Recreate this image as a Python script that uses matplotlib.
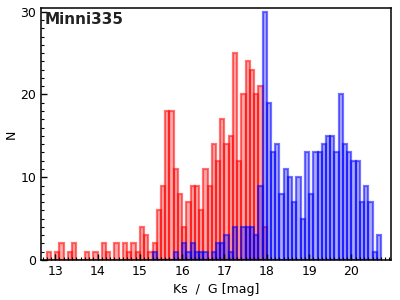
import numpy as np
import matplotlib
matplotlib.use("Agg")
import matplotlib.pyplot as plt
from matplotlib.ticker import MultipleLocator

# histogram counts, 0.1 mag bins
bin_width = 0.1
red_start = 12.8   # Ks
red_counts = [1, 0, 1, 2, 0, 1, 2, 0, 0, 1, 0, 1, 0, 2, 1, 0, 2, 0, 2, 1,
              2, 1, 4, 3, 1, 2, 6, 9, 18, 18, 11, 8, 4, 7, 9, 9, 6, 11, 9, 14,
              12, 17, 14, 15, 25, 12, 20, 24, 23, 20, 21, 4]
blue_start = 15.3  # G
blue_counts = [1, 0, 0, 0, 0, 1, 0, 2, 1, 2, 1, 1, 1, 0, 1, 2, 2, 3, 1, 4,
               0, 4, 4, 4, 3, 9, 30, 19, 13, 14, 8, 11, 10, 7, 10, 5, 13, 8, 13, 13,
               14, 15, 15, 13, 20, 14, 13, 12, 12, 7, 9, 7, 1, 3]
label = "Minni335"


def bin_lefts(start, counts):
    return np.round(start + bin_width * np.arange(len(counts)), 2)


fig = plt.figure(figsize=(4, 3), dpi=100)
ax = fig.add_axes([0.1025, 0.1333, 0.875, 0.84])

ax.bar(bin_lefts(red_start, red_counts), red_counts, width=bin_width, align="edge",
       facecolor=(1, 0, 0, 0.33), edgecolor=(1, 0, 0, 0.55), linewidth=1.6)
ax.bar(bin_lefts(blue_start, blue_counts), blue_counts, width=bin_width, align="edge",
       facecolor=(0, 0, 1, 0.33), edgecolor=(0, 0, 1, 0.55), linewidth=1.6)

ax.set_xlim(12.663, 20.937)
ax.set_ylim(0, 30.45)
ax.xaxis.set_major_locator(MultipleLocator(1))
ax.xaxis.set_minor_locator(MultipleLocator(0.1))
ax.yaxis.set_major_locator(MultipleLocator(10))
ax.yaxis.set_minor_locator(MultipleLocator(1))
ax.tick_params(which="both", direction="in", top=False, right=False, labelsize=9)
ax.tick_params(which="major", length=4, width=1)
ax.tick_params(which="minor", length=2, width=0.8)
for s in ax.spines.values():
    s.set_linewidth(1.1)

ax.set_xlabel("Ks  /  G [mag]", fontsize=9, labelpad=4)
ax.set_ylabel("N", fontsize=9, labelpad=2)
ax.text(0.01, 0.985, label, transform=ax.transAxes, ha="left", va="top",
        fontsize=11, fontweight="bold", color="#222222")

fig.savefig("out.png", dpi=100)
